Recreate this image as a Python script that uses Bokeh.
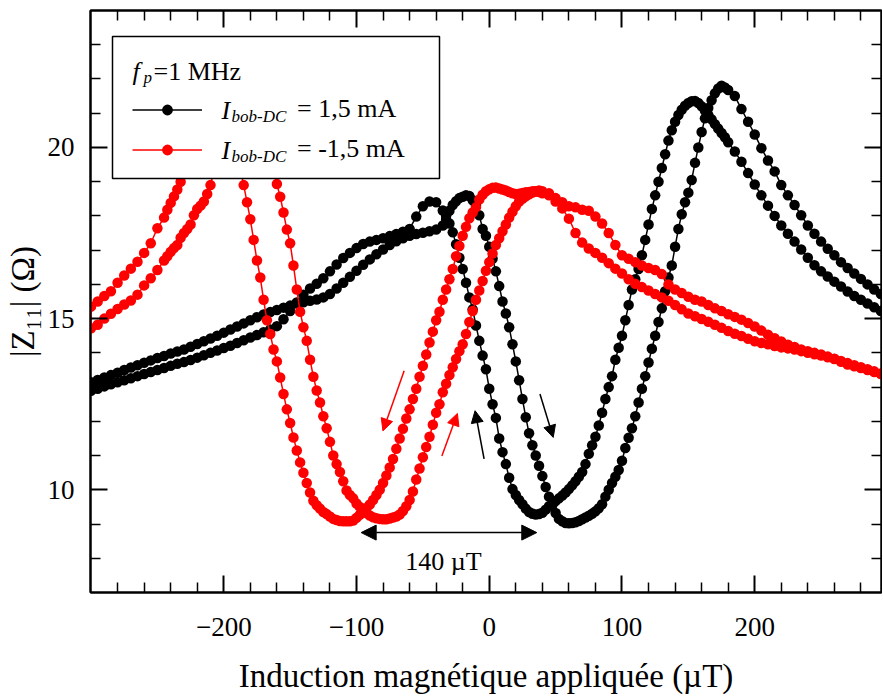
from bokeh.plotting import figure
from bokeh.models import (Range1d, FixedTicker, LinearAxis, Legend, LegendItem, Label,
                          BoxAnnotation, Arrow, NormalHead, ColumnDataSource, CustomJSTickFormatter)
from bokeh.embed import file_html
from bokeh.resources import INLINE

FONT = "Liberation Serif"

# ---------------- data ----------------
# applied field grid for the I_bob-DC = +1.5 mA loop (uT)
field_black = [
    -300, -295, -290, -285, -280, -275, -270, -265, -260, -255, -250, -245, -240, -235, -230, -225,
    -220, -215, -210, -205, -200, -195, -190, -185, -180, -175, -170, -165, -160, -155, -150, -145,
    -140, -135, -130, -125, -120, -115, -110, -105, -100, -95, -90, -85, -80, -75, -70, -65, -60,
    -55, -50, -45, -40, -35,
    -32.5, -30, -27.5, -25, -22.5, -20, -17.5, -15, -12.5, -10, -7.5, -5, -2.5, 0, 2.5, 5, 7.5, 10,
    12.5, 15, 17.5, 20, 22.5, 25, 27.5, 30, 32.5, 35, 37.5, 40, 42.5, 45, 47.5, 50, 52.5, 55, 57.5,
    60, 62.5, 65, 67.5, 70, 72.5, 75, 77.5, 80, 82.5, 85, 87.5, 90, 92.5, 95, 97.5, 100, 102.5, 105,
    107.5, 110, 112.5, 115, 117.5, 120, 122.5, 125, 127.5, 130, 132.5, 135, 137.5, 140, 142.5, 145,
    147.5, 150, 152.5, 155, 157.5, 160, 162.5, 165, 167.5, 170, 172.5, 175, 177.5, 180,
    185, 190, 195, 200, 205, 210, 215, 220, 225, 230, 235, 240, 245, 250, 255, 260, 265, 270, 275,
    280, 285, 290, 295]

# |Z11| (Ohm), decreasing-field sweep, +1.5 mA
z_black_down = [
    12.89, 12.95, 13.02, 13.08, 13.14, 13.20, 13.26, 13.32, 13.38, 13.44, 13.50, 13.56, 13.62, 13.68,
    13.73, 13.79, 13.86, 13.93, 14.00, 14.07, 14.14, 14.21, 14.29, 14.37, 14.45, 14.52, 14.60, 14.68,
    14.78, 14.98, 15.22, 15.47, 15.70, 15.88, 16.02, 16.18, 16.38, 16.58, 16.77, 16.92, 17.06, 17.18,
    17.25, 17.30, 17.35, 17.41, 17.47, 17.54, 17.62, 17.98, 18.28, 18.42, 18.40, 18.16,
    18.00, 17.78, 17.52, 17.17, 16.78, 16.45, 16.05, 15.62, 15.27, 14.80, 14.35, 13.92, 13.52, 12.95,
    12.50, 12.10, 11.50, 11.10, 10.75, 10.35, 10.02, 9.85, 9.70, 9.58, 9.45, 9.35, 9.30, 9.28, 9.29,
    9.33, 9.42, 9.52, 9.60, 9.67, 9.75, 9.83, 9.92, 10.02, 10.13, 10.25, 10.38, 10.52, 10.75, 11.05,
    11.30, 11.55, 11.88, 12.25, 12.65, 13.00, 13.32, 13.80, 14.15, 14.50, 14.95, 15.40, 15.85, 16.15,
    16.45, 16.85, 17.30, 17.75, 18.20, 18.60, 19.00, 19.40, 19.80, 20.20, 20.50, 20.75, 20.95, 21.10,
    21.22, 21.30, 21.35, 21.36, 21.30, 21.20, 21.08, 20.95, 20.82, 20.68, 20.55, 20.42, 20.30, 20.15,
    19.88, 19.58, 19.25, 18.92, 18.60, 18.30, 18.00, 17.72, 17.48, 17.25, 17.02, 16.78, 16.56, 16.38,
    16.23, 16.08, 15.94, 15.79, 15.66, 15.55, 15.44, 15.33, 15.22]

# |Z11| (Ohm), increasing-field sweep, +1.5 mA
z_black_up = [
    13.14, 13.21, 13.28, 13.35, 13.42, 13.50, 13.57, 13.64, 13.71, 13.78, 13.85, 13.91, 13.98, 14.04,
    14.10, 14.18, 14.26, 14.34, 14.42, 14.50, 14.59, 14.68, 14.77, 14.86, 14.95, 15.04, 15.12, 15.19,
    15.25, 15.32, 15.38, 15.44, 15.48, 15.52, 15.56, 15.62, 15.72, 15.88, 16.05, 16.22, 16.40, 16.57,
    16.73, 16.88, 17.02, 17.15, 17.26, 17.35, 17.42, 17.47, 17.51, 17.55, 17.60, 17.72,
    17.90, 18.15, 18.32, 18.43, 18.52, 18.56, 18.60, 18.58, 18.46, 18.30, 18.02, 17.62, 17.42, 17.10,
    16.75, 16.38, 15.95, 15.50, 15.15, 14.75, 14.25, 13.75, 13.20, 12.65, 12.12, 11.65, 11.30, 11.00,
    10.70, 10.40, 10.08, 9.80, 9.55, 9.32, 9.15, 9.08, 9.03, 9.02, 9.03, 9.05, 9.09, 9.14, 9.19, 9.24,
    9.30, 9.37, 9.46, 9.58, 9.80, 10.00, 10.20, 10.38, 10.58, 10.85, 11.22, 11.52, 11.80, 12.15,
    12.55, 12.95, 13.32, 13.72, 14.12, 14.50, 14.90, 15.30, 15.80, 16.20, 16.55, 17.10, 17.62, 18.05,
    18.40, 18.68, 19.05, 19.55, 20.00, 20.45, 20.85, 21.15, 21.38, 21.58, 21.72, 21.80, 21.75, 21.68,
    21.50, 21.12, 20.75, 20.38, 19.98, 19.62, 19.30, 18.90, 18.60, 18.32, 18.02, 17.72, 17.48, 17.25,
    17.04, 16.85, 16.65, 16.48, 16.32, 16.16, 16.00, 15.85, 15.72]

# applied field grid for the I_bob-DC = -1.5 mA loop (uT)
field_red = [
    -300, -295, -290, -285, -280, -275, -270, -265, -260, -255, -250, -245,
    -242.5, -240, -237.5, -235, -232.5, -230, -227.5, -225, -222.5, -220, -217.5, -215, -212.5, -210,
    -207.5, -205, -202.5, -200, -197.5, -195, -192.5, -190, -187.5, -185, -182.5, -180, -177.5, -175,
    -172.5, -170, -167.5, -165, -162.5, -160, -157.5, -155, -152.5, -150, -147.5, -145, -142.5, -140,
    -137.5, -135, -132.5, -130, -127.5, -125, -122.5, -120, -117.5, -115, -112.5, -110, -107.5, -105,
    -102.5, -100, -97.5, -95, -92.5, -90, -87.5, -85, -82.5, -80, -77.5, -75, -72.5, -70, -67.5, -65,
    -62.5, -60, -57.5, -55, -52.5, -50, -47.5, -45, -42.5, -40, -37.5, -35, -32.5, -30, -27.5, -25,
    -22.5, -20, -17.5, -15, -12.5, -10, -7.5, -5, -2.5, 0, 2.5, 5, 7.5, 10, 12.5, 15, 17.5, 20, 22.5,
    25, 27.5, 30, 32.5, 35, 37.5, 40,
    45, 50, 55, 60, 65, 70, 75, 80, 85, 90, 95, 100, 105, 110, 115, 120, 125, 130, 135, 140, 145, 150,
    155, 160, 165, 170, 175, 180, 185, 190, 195, 200, 205, 210, 215, 220, 225, 230, 235, 240, 245, 250,
    255, 260, 265, 270, 275, 280, 285, 290, 295]

# |Z11| (Ohm), decreasing-field sweep, -1.5 mA
z_red_down = [
    15.35, 15.50, 15.66, 15.80, 16.05, 16.26, 16.46, 16.66, 16.92, 17.20, 17.64, 17.95,
    18.18, 18.38, 18.57, 18.77, 19.00, 19.30, 19.60, 19.95, 20.30, 20.60,
    20.90, 21.15, 21.35, 21.45, 21.50, 21.40, 21.20, 21.00, 20.70, 20.40,
    20.10, 19.75, 19.35, 18.90, 18.40, 17.90, 17.30, 16.70, 16.20, 15.55,
    14.95, 14.55, 14.10, 13.75, 13.28, 12.80, 12.35, 11.95, 11.53, 11.15,
    10.80, 10.50, 10.20, 9.92, 9.68, 9.55, 9.45, 9.35, 9.29, 9.22,
    9.15, 9.12, 9.09, 9.08, 9.08, 9.08, 9.10, 9.18, 9.27, 9.38,
    9.47, 9.57, 9.70, 9.85, 10.00, 10.20, 10.42, 10.65, 10.90, 11.20,
    11.50, 11.78, 12.08, 12.35, 12.65, 12.95, 13.30, 13.62, 13.95, 14.30,
    14.62, 14.95, 15.20, 15.55, 15.85, 16.15, 16.45, 16.82, 17.12, 17.42,
    17.68, 17.93, 18.10, 18.25, 18.48, 18.62, 18.72, 18.78, 18.82, 18.83,
    18.80, 18.77, 18.74, 18.70, 18.66, 18.64, 18.65, 18.67, 18.69, 18.70,
    18.72, 18.72, 18.70, 18.66,
    18.60, 18.42, 18.22, 17.92, 17.50, 17.22, 17.05, 16.92, 16.78, 16.62,
    16.46, 16.32, 16.15, 16.02, 15.92, 15.82, 15.72, 15.62, 15.52, 15.40,
    15.27, 15.15, 15.07, 14.99, 14.91, 14.82, 14.73, 14.64, 14.56, 14.49,
    14.41, 14.34, 14.29, 14.25, 14.20, 14.16, 14.13, 14.10, 14.05, 14.00,
    13.96, 13.92, 13.87, 13.82, 13.74, 13.66, 13.61, 13.56, 13.50, 13.44,
    13.38]

# |Z11| (Ohm), increasing-field sweep, -1.5 mA
z_red_up = [
    14.72, 14.82, 15.00, 15.14, 15.28, 15.41, 15.53, 15.70, 15.97, 16.18, 16.42, 16.70,
    16.82, 16.95, 17.06, 17.15, 17.36, 17.50, 17.62, 17.75, 18.02, 18.20,
    18.30, 18.42, 18.64, 18.90, 19.30, 19.70, 20.10, 20.50, 20.90, 21.20,
    21.50, 21.70, 21.85, 21.90, 21.80, 21.60, 21.30, 20.95, 20.60, 20.25,
    19.95, 19.65, 19.30, 18.93, 18.56, 18.10, 17.60, 17.20, 16.55, 15.85,
    15.20, 14.75, 14.35, 13.80, 13.30, 12.90, 12.55, 12.15, 11.80, 11.40,
    11.00, 10.75, 10.52, 10.25, 9.98, 9.85, 9.75, 9.60, 9.50, 9.40,
    9.32, 9.25, 9.20, 9.17, 9.15, 9.14, 9.14, 9.16, 9.19, 9.22,
    9.28, 9.38, 9.52, 9.70, 9.95, 10.30, 10.62, 10.95, 11.25, 11.55,
    11.90, 12.25, 12.50, 12.85, 13.10, 13.35, 13.58, 13.82, 14.05, 14.25,
    14.55, 14.90, 15.22, 15.55, 15.82, 16.10, 16.40, 16.65, 16.90, 17.15,
    17.35, 17.55, 17.75, 17.95, 18.12, 18.28, 18.42, 18.50, 18.57, 18.63,
    18.68, 18.72, 18.74, 18.72,
    18.66, 18.52, 18.40, 18.28, 18.25, 18.18, 18.15, 17.98, 17.78, 17.50,
    17.15, 16.85, 16.75, 16.65, 16.55, 16.48, 16.42, 16.30, 16.00, 15.85,
    15.75, 15.64, 15.55, 15.50, 15.40, 15.30, 15.22, 15.13, 15.05, 14.97,
    14.87, 14.77, 14.65, 14.53, 14.43, 14.33, 14.24, 14.17, 14.10, 14.05,
    14.00, 13.95, 13.89, 13.83, 13.76, 13.70, 13.64, 13.58, 13.52, 13.46,
    13.40]

x_major_ticks = [-200, -100, 0, 100, 200]
x_minor_ticks = [-280, -260, -240, -220, -180, -160, -140, -120, -80, -60, -40, -20,
                 20, 40, 60, 80, 120, 140, 160, 180, 220, 240, 260, 280]
y_major_ticks = [10, 15, 20]
y_minor_ticks = [8, 9, 11, 12, 13, 14, 16, 17, 18, 19, 21, 22, 23]

legend_labels = ["= 1,5 mA", "= -1,5 mA"]
legend_title = ["f", "p", "=1 MHz"]
gap_label = "140 µT"

# ---------------- figure ----------------
p = figure(width=882, height=696,
           x_range=Range1d(-300.4, 295.5), y_range=Range1d(7.0, 24.0),
           output_backend="svg", toolbar_location=None,
           min_border_left=90, min_border_right=1, min_border_top=10, min_border_bottom=104,
           x_axis_label="Induction magnétique appliquée (µT)",
           y_axis_label="|Z₁₁| (Ω)")
p.grid.visible = False
p.outline_line_color = "black"
p.outline_line_width = 2
p.background_fill_color = "white"
p.border_fill_color = "white"

fmt = CustomJSTickFormatter(code="return tick < 0 ? '\\u2212' + Math.abs(tick) : String(tick);")


def style_axis(ax, ticks, minor, show_labels):
    ax.ticker = FixedTicker(ticks=ticks, minor_ticks=minor)
    ax.axis_line_width = 2
    ax.axis_line_color = "black"
    ax.major_tick_in = 17
    ax.major_tick_out = 0
    ax.minor_tick_in = 10
    ax.minor_tick_out = 0
    ax.major_tick_line_width = 2
    ax.minor_tick_line_width = 1.5
    ax.major_tick_line_color = "black"
    ax.minor_tick_line_color = "black"
    if show_labels:
        ax.formatter = fmt
        ax.major_label_text_font = FONT
        ax.major_label_text_font_size = "27px"
        ax.major_label_text_color = "black"
        ax.axis_label_text_font = FONT
        ax.axis_label_text_font_size = "33px"
        ax.axis_label_text_font_style = "normal"
        ax.axis_label_text_color = "black"
    else:
        ax.major_label_text_font_size = "0px"
        ax.major_label_text_color = None
        ax.major_label_standoff = 0


style_axis(p.xaxis[0], x_major_ticks, x_minor_ticks, True)
style_axis(p.yaxis[0], y_major_ticks, y_minor_ticks, True)
p.xaxis[0].major_label_standoff = 25
p.xaxis[0].axis_label_standoff = 19
p.yaxis[0].major_label_standoff = 16
p.yaxis[0].axis_label_standoff = 4

top_axis = LinearAxis()
style_axis(top_axis, x_major_ticks, x_minor_ticks, False)
p.add_layout(top_axis, "above")
right_axis = LinearAxis()
style_axis(right_axis, y_major_ticks, y_minor_ticks, False)
p.add_layout(right_axis, "right")

# each loop: decreasing sweep (from +B to -B) followed by increasing sweep
black_src = ColumnDataSource(dict(x=field_black[::-1] + field_black,
                                  z=z_black_down[::-1] + z_black_up))
red_src = ColumnDataSource(dict(x=field_red[::-1] + field_red,
                                z=z_red_down[::-1] + z_red_up))

bl = p.line("x", "z", source=black_src, line_color="black", line_width=1.5)
bs = p.scatter("x", "z", source=black_src, size=10.5, fill_color="black", line_color=None)
rl = p.line("x", "z", source=red_src, line_color="red", line_width=1.5)
rs = p.scatter("x", "z", source=red_src, size=10.5, fill_color="red", line_color=None)

# ---------------- annotations ----------------
def arrow(x0, y0, x1, y1, color, size=12, both=False):
    a = Arrow(x_start=x0, y_start=y0, x_end=x1, y_end=y1, line_color=color, line_width=1.5,
              end=NormalHead(size=size, fill_color=color, line_color=color, line_width=1),
              start=NormalHead(size=size, fill_color=color, line_color=color, line_width=1) if both else None)
    p.add_layout(a)


arrow(-64.1, 13.48, -80.1, 11.72, "red")
arrow(-35.7, 10.99, -24.0, 12.23, "red")
arrow(-3.9, 10.9, -10.7, 12.31, "black")
arrow(38.2, 12.80, 48.2, 11.53, "black")
arrow(-96.5, 8.75, 35.8, 8.75, "black", size=15, both=True)
p.add_layout(Label(x=-34.5, y=7.9, text=gap_label, text_align="center", text_baseline="alphabetic",
                   text_font=FONT, text_font_size="26px", text_color="black"))

# legend frame (screen units, relative to the plot frame's bottom-left corner)
p.add_layout(BoxAnnotation(left=22, right=349, top=556, bottom=414,
                           left_units="screen", right_units="screen",
                           top_units="screen", bottom_units="screen",
                           fill_color="white", fill_alpha=1.0,
                           line_color="black", line_width=1.5, line_alpha=1.0))

legend = Legend(items=[LegendItem(label=legend_labels[0], renderers=[bl, bs]),
                       LegendItem(label=legend_labels[1], renderers=[rl, rs])],
                location=(42, 428), orientation="vertical", padding=0, margin=0, spacing=10,
                glyph_width=70, glyph_height=27, label_height=27, label_standoff=95,
                label_text_font=FONT, label_text_font_size="26px", label_text_color="black",
                border_line_alpha=0, background_fill_alpha=0)
p.add_layout(legend)


def txt(x, y, t, size, style="normal"):
    p.add_layout(Label(x=x, y=y, x_units="screen", y_units="screen", text=t,
                       text_font=FONT, text_font_size=size, text_font_style=style,
                       text_baseline="alphabetic", text_color="black"))


txt(42, 521, legend_title[0], "26px", "italic")
txt(53, 515, legend_title[1], "17px", "italic")
txt(63, 521, legend_title[2], "26px")
for yb in (482, 442):
    txt(131, yb, "I", "26px", "italic")
    txt(141, yb - 6, "bob-DC", "17px", "italic")

open("out.html", "w").write(file_html(p, INLINE))
